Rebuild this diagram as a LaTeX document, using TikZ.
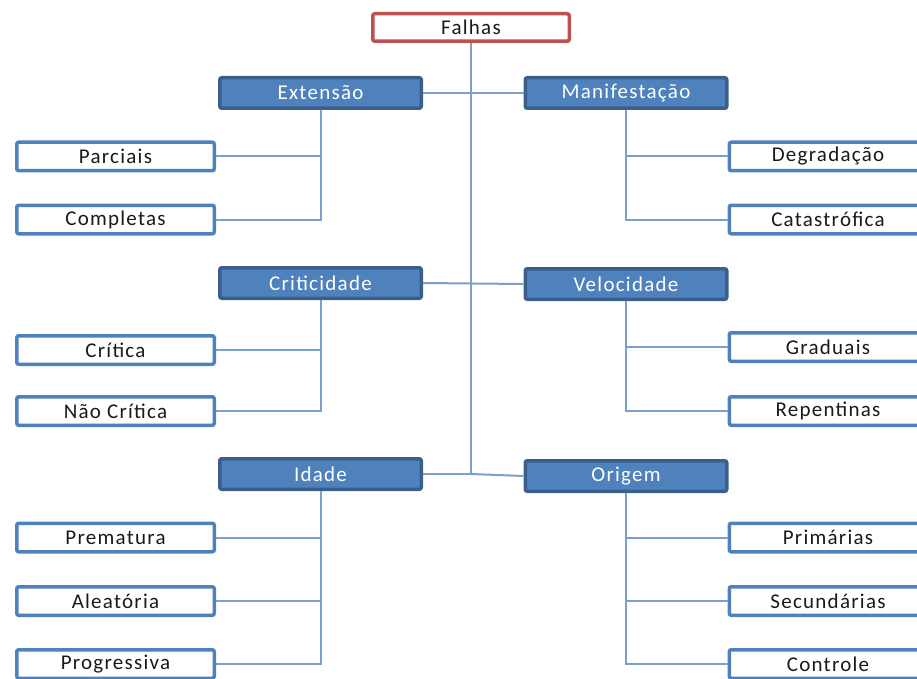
\documentclass[tikz,border=0pt]{standalone}
\usepackage{fontspec}
\setmainfont{Carlito}
\definecolor{accent}{HTML}{4F81BD}
\definecolor{accentdark}{HTML}{3A5F8B}
\definecolor{rootred}{HTML}{C0504D}
\definecolor{linkblue}{HTML}{7BA0CD}
\definecolor{inkgray}{HTML}{1A1A1A}
\tikzset{
  basebox/.style={rectangle, rounded corners=2pt, line width=3.5pt, inner sep=0pt,
    font=\fontsize{21}{25}\selectfont\addfontfeatures{LetterSpace=6}},
  rootbox/.style={basebox, draw=rootred, fill=white, text=inkgray,
    minimum width=196.5pt, minimum height=27.5pt},
  groupbox/.style={basebox, draw=accentdark, fill=accent, text=white,
    minimum width=201.5pt, minimum height=30.5pt},
  leafbox/.style={basebox, draw=accent, fill=white, text=inkgray,
    minimum width=197.5pt, minimum height=28.5pt},
  link/.style={draw=linkblue, line width=2pt}
}
\begin{document}
\begin{tikzpicture}[x=1pt, y=-1pt]
\useasboundingbox (0,0) rectangle (917,679);
\clip (0,0) rectangle (917,679);

% root
\node[rootbox] (falhas) at (471,27.5) {Falhas};

% group boxes
\node[groupbox] (extensao) at (320.5,93) {Extensão};
\node[groupbox] (manif) at (626,93) {Manifestação};
\node[groupbox] (crit) at (320.5,283) {Criticidade};
\node[groupbox] (veloc) at (626,284) {Velocidade};
\node[groupbox] (idade) at (320.5,474) {Idade};
\node[groupbox] (origem) at (626,476) {Origem};

% left leaves
\node[leafbox] (parciais) at (115.5,156.5) {Parciais};
\node[leafbox] (completas) at (115.5,219.5) {Completas};
\node[leafbox] (critica) at (115.5,350) {Crítica};
\node[leafbox] (naocritica) at (115.5,411) {Não Crítica};
\node[leafbox] (prematura) at (115.5,537.5) {Prematura};
\node[leafbox] (aleatoria) at (115.5,601) {Aleatória};
\node[leafbox] (progressiva) at (115.5,664) {Progressiva};

% right leaves
\node[leafbox] (degradacao) at (828,156.5) {Degradação};
\node[leafbox] (catastrofica) at (828,219.5) {Catastrófica};
\node[leafbox] (graduais) at (828,347) {Graduais};
\node[leafbox] (repentinas) at (828,411) {Repentinas};
\node[leafbox] (primarias) at (828,537.5) {Primárias};
\node[leafbox] (secundarias) at (828,601) {Secundárias};
\node[leafbox] (controle) at (828,664) {Controle};

% trunk and links between the group boxes
\draw[link] (falhas.south) -- (falhas.south |- idade.east) -- (idade.east);
\draw[link] (falhas.south |- idade.east) -- (origem.west);
\draw[link] (extensao.east) -- (manif.west);
\draw[link] (crit.east) -- (veloc.west);

% group to leaf links
\draw[link] (extensao.south) |- (completas.east);
\draw[link] (extensao.south |- parciais.east) -- (parciais.east);
\draw[link] (manif.south) |- (catastrofica.west);
\draw[link] (manif.south |- degradacao.west) -- (degradacao.west);
\draw[link] (crit.south) |- (naocritica.east);
\draw[link] (crit.south |- critica.east) -- (critica.east);
\draw[link] (veloc.south) |- (repentinas.west);
\draw[link] (veloc.south |- graduais.west) -- (graduais.west);
\draw[link] (idade.south) |- (progressiva.east);
\draw[link] (idade.south |- prematura.east) -- (prematura.east);
\draw[link] (idade.south |- aleatoria.east) -- (aleatoria.east);
\draw[link] (origem.south) |- (controle.west);
\draw[link] (origem.south |- primarias.west) -- (primarias.west);
\draw[link] (origem.south |- secundarias.west) -- (secundarias.west);
\end{tikzpicture}
\end{document}
